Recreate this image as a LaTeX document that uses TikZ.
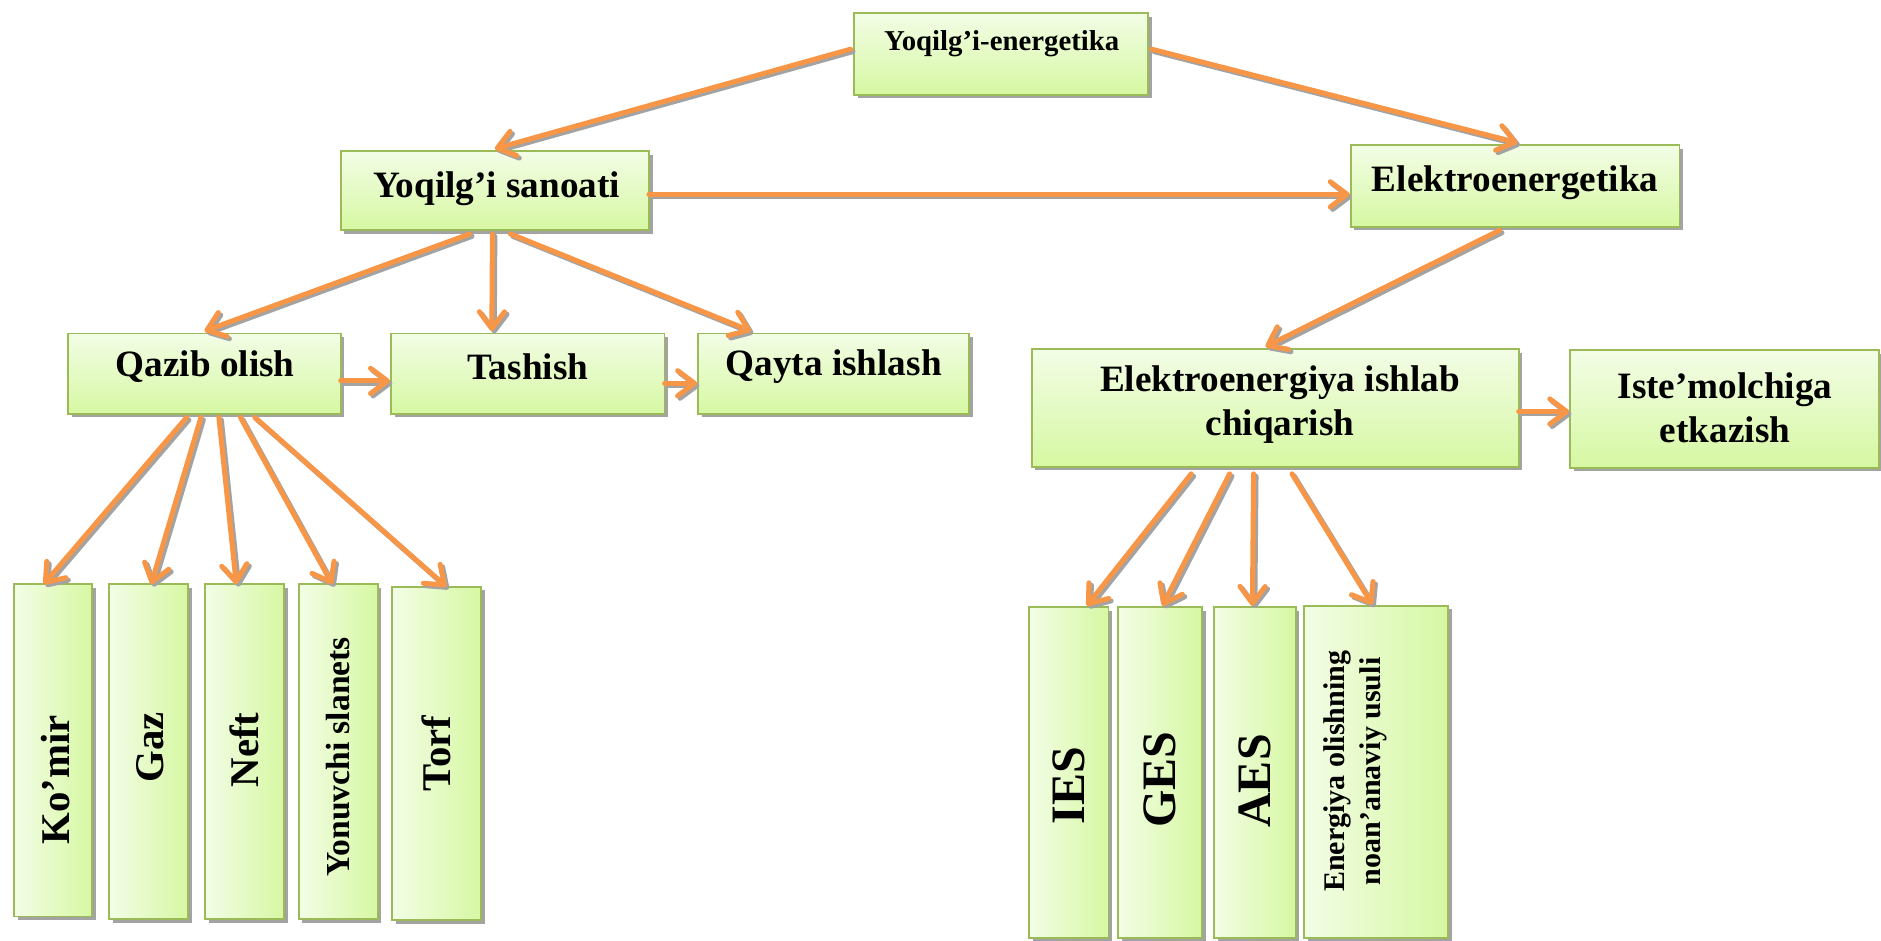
\documentclass[tikz,border=0pt]{standalone}
\usepackage{fontspec}
\setmainfont{Liberation Serif}
\usetikzlibrary{arrows.meta,shadows,calc}
\definecolor{boxlight}{HTML}{F3FDE6}
\definecolor{boxdark}{HTML}{D6F8A2}
\definecolor{boxline}{HTML}{9BBB59}
\definecolor{arrorange}{HTML}{F79646}
\definecolor{shadowgray}{HTML}{A3A3A3}
\tikzset{
  hbox/.style={draw=boxline, line width=0.75pt, top color=boxlight, bottom color=boxdark,
    inner sep=0pt, outer sep=0pt,
    drop shadow={shadow xshift=1.5pt,shadow yshift=-1.5pt,fill=shadowgray,opacity=1}},
  vbox/.style={draw=boxline, line width=0.75pt, left color=boxlight, right color=boxdark,
    inner sep=0pt, outer sep=0pt,
    drop shadow={shadow xshift=1.5pt,shadow yshift=-1.5pt,fill=shadowgray,opacity=1}},
  txt/.style={font=\bfseries\fontsize{15.5}{18.5}\selectfont, align=center, inner sep=0pt},
  vtxt/.style={font=\bfseries\fontsize{17}{20}\selectfont, align=center, inner sep=0pt, rotate=90},
  connbase/.style={line width=2.1pt, line cap=round,
    -{Straight Barb[length=7pt,width=10.5pt,line width=2.1pt,round]}},
  conn/.style={connbase, draw=arrorange},
  connshadow/.style={connbase, draw=shadowgray, transform canvas={xshift=1pt,yshift=-1pt}}
}
\newcommand\myconn[2]{\draw[connshadow] #1 -- #2; \draw[conn] #1 -- #2;}
\begin{document}
\begin{tikzpicture}[x=0.5pt,y=-0.5pt]
\useasboundingbox (0,0) rectangle (1568,784);
% boxes
\node[hbox, minimum width=122.5pt, minimum height=34pt] (ye) at (834.5,45) {};
\node[hbox, minimum width=128.5pt, minimum height=33pt] (ys) at (412.5,159) {};
\node[hbox, minimum width=137pt, minimum height=34pt] (ee) at (1263,155) {};
\node[hbox, minimum width=113.5pt, minimum height=33.5pt] (qo) at (170.5,311.5) {};
\node[hbox, minimum width=114pt, minimum height=33.5pt] (ta) at (440,311.5) {};
\node[hbox, minimum width=113pt, minimum height=33.5pt] (qi) at (695,311.5) {};
\node[hbox, minimum width=203pt, minimum height=49pt] (ei) at (1063,340) {};
\node[hbox, minimum width=128.5pt, minimum height=49pt] (it) at (1437.5,341) {};
\node[vbox, minimum width=32.5pt, minimum height=138.5pt] (km) at (44.5,625.5) {};
\node[vbox, minimum width=33pt, minimum height=139.5pt] (gz) at (124,626.5) {};
\node[vbox, minimum width=33pt, minimum height=139.5pt] (nf) at (204,626.5) {};
\node[vbox, minimum width=33pt, minimum height=139.5pt] (yn) at (282,626.5) {};
\node[vbox, minimum width=37pt, minimum height=139pt] (tf) at (364,628) {};
\node[vbox, minimum width=33pt, minimum height=138pt] (ies) at (891,644) {};
\node[vbox, minimum width=35pt, minimum height=138pt] (ges) at (967,644) {};
\node[vbox, minimum width=34pt, minimum height=138pt] (aes) at (1046,644) {};
\node[vbox, minimum width=60pt, minimum height=138.5pt] (en) at (1147,643.5) {};
% texts
\node[txt, font=\bfseries\fontsize{12}{14}\selectfont] (tye) at (835,36) {Yoqilg’i-energetika};
\node[txt] (tys) at (414,157) {Yoqilg’i sanoati};
\node[txt] (tee) at (1263,152) {Elektroenergetika};
\node[txt] (tqo) at (171,306) {Qazib olish};
\node[txt] (tta) at (440,306) {Tashish};
\node[txt] (tqi) at (695,306) {Qayta ishlash};
\node[txt] (tei) at (1067,337) {Elektroenergiya ishlab\\chiqarish};
\node[txt] (tit) at (1438,340) {Iste’molchiga\\etkazish};
\node[vtxt] (tkm) at (46,650) {Ko’mir};
\node[vtxt] (tgz) at (125,623) {Gaz};
\node[vtxt] (tnf) at (204,625) {Neft};
\node[vtxt, font=\bfseries\fontsize{14}{16}\selectfont] (tyn) at (282,631) {Yonuvchi slanets};
\node[vtxt] (ttf) at (364,628) {Torf};
\node[vtxt, font=\bfseries\fontsize{20}{22}\selectfont] (ties) at (891,655) {IES};
\node[vtxt, font=\bfseries\fontsize{20}{22}\selectfont] (tges) at (967,650) {GES};
\node[vtxt, font=\bfseries\fontsize{20}{22}\selectfont] (taes) at (1046,651) {AES};
\node[vtxt, font=\bfseries\fontsize{12.5}{15}\selectfont] (ten) at (1130,643) {Energiya olishning\\noan’anaviy usuli};
% connectors
\myconn{($(ye.west)+(-3,-4)$)}{($(ys.north)+(0,-2)$)}
\myconn{($(ye.east)+(3,-4)$)}{($(ee.north)+(2,-2)$)}
\myconn{($(ys.east)+(0,3)$)}{($(ys.east -| ee.west)+(-1,3)$)}
\myconn{($(ys.south)+(-21,3)$)}{($(qo.north)+(0,-2)$)}
\myconn{($(ys.south)+(-2,3)$)}{($(ta.north)+(-30,-2)$)}
\myconn{($(ys.south)+(13,3)$)}{($(qi.north)+(-69,-2)$)}
\myconn{($(qo.east)+(0,6)$)}{($(ta.west)+(-1,6)$)}
\myconn{($(ta.east)+(0,8)$)}{($(qi.west)+(-1,8)$)}
\myconn{($(ee.south)+(-13,3)$)}{($(ei.north)+(-8,-2)$)}
\myconn{($(ei.east)+(0,3)$)}{($(it.west)+(-1,2)$)}
\myconn{($(qo.south)+(-15,3)$)}{($(km.north)+(-8,0)$)}
\myconn{($(qo.south)+(-3,3)$)}{($(gz.north)+(2,0)$)}
\myconn{($(qo.south)+(12,3)$)}{($(nf.north)+(-7,0)$)}
\myconn{($(qo.south)+(30,3)$)}{($(yn.north)+(-5,0)$)}
\myconn{($(qo.south)+(42,3)$)}{($(tf.north)+(8,0)$)}
\myconn{($(ei.south)+(-70,6)$)}{($(ies.north)+(15,-1)$)}
\myconn{($(ei.south)+(-38,6)$)}{($(ges.north)+(2,-1)$)}
\myconn{($(ei.south)+(-18,6)$)}{($(aes.north)+(-2,-1)$)}
\myconn{($(ei.south)+(14,6)$)}{($(en.north)+(-3,-1)$)}
\end{tikzpicture}
\end{document}
